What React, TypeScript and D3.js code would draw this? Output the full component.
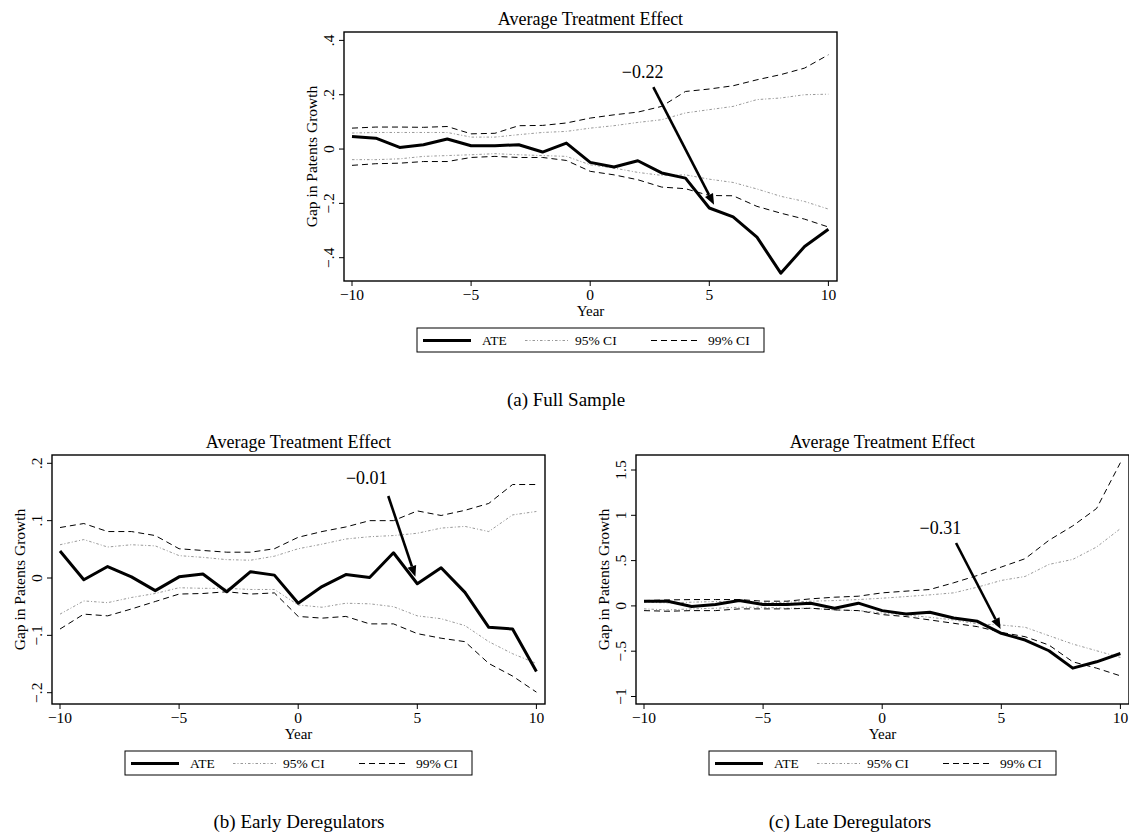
import React, { useEffect, useRef } from 'react';
import * as d3 from 'd3';

const years = [-10, -9, -8, -7, -6, -5, -4, -3, -2, -1, 0, 1, 2, 3, 4, 5, 6, 7, 8, 9, 10];
const xTicks = [-10, -5, 0, 5, 10];

// (a) Full Sample
const fullAte = [0.046, 0.040, 0.006, 0.016, 0.037, 0.012, 0.012, 0.016, -0.011, 0.022, -0.049, -0.066, -0.043, -0.088, -0.107, -0.217, -0.25, -0.324, -0.457, -0.359, -0.295];
const fullHi99 = [0.077, 0.081, 0.081, 0.080, 0.083, 0.056, 0.058, 0.086, 0.087, 0.096, 0.114, 0.126, 0.136, 0.157, 0.212, 0.221, 0.233, 0.255, 0.274, 0.298, 0.347];
const fullHi95 = [0.059, 0.061, 0.061, 0.061, 0.061, 0.044, 0.044, 0.053, 0.061, 0.065, 0.077, 0.086, 0.098, 0.108, 0.133, 0.145, 0.157, 0.182, 0.188, 0.2, 0.202];
const fullLo95 = [-0.039, -0.039, -0.036, -0.027, -0.024, -0.021, -0.017, -0.021, -0.024, -0.027, -0.058, -0.07, -0.086, -0.097, -0.095, -0.111, -0.123, -0.147, -0.174, -0.193, -0.221];
const fullLo99 = [-0.06, -0.054, -0.052, -0.046, -0.046, -0.031, -0.027, -0.031, -0.031, -0.042, -0.082, -0.095, -0.113, -0.14, -0.146, -0.171, -0.172, -0.211, -0.236, -0.258, -0.287];
const fullTicks = [-0.4, -0.2, 0, 0.2, 0.4];
const fullTickLabels = ['\u2212.4', '\u2212.2', '0', '.2', '.4'];
const fullArrow = [2.65, 0.228, 5.2, -0.205];
const fullNote = [2.2, 0.262];

// (b) Early Deregulators
const earlyAte = [0.047, -0.003, 0.020, 0.002, -0.022, 0.002, 0.007, -0.024, 0.011, 0.005, -0.044, -0.015, 0.006, 0.001, 0.044, -0.010, 0.018, -0.025, -0.086, -0.089, -0.163];
const earlyHi99 = [0.088, 0.095, 0.081, 0.081, 0.074, 0.051, 0.048, 0.045, 0.045, 0.051, 0.071, 0.081, 0.089, 0.100, 0.100, 0.117, 0.109, 0.118, 0.130, 0.163, 0.163];
const earlyHi95 = [0.058, 0.067, 0.054, 0.058, 0.056, 0.039, 0.036, 0.032, 0.031, 0.038, 0.051, 0.059, 0.068, 0.072, 0.074, 0.078, 0.087, 0.090, 0.081, 0.110, 0.116];
const earlyLo95 = [-0.063, -0.040, -0.043, -0.034, -0.027, -0.017, -0.018, -0.018, -0.020, -0.020, -0.047, -0.051, -0.044, -0.045, -0.050, -0.066, -0.071, -0.083, -0.111, -0.132, -0.149];
const earlyLo99 = [-0.089, -0.063, -0.066, -0.054, -0.041, -0.028, -0.027, -0.024, -0.028, -0.026, -0.067, -0.070, -0.067, -0.080, -0.080, -0.097, -0.105, -0.111, -0.149, -0.171, -0.199];
const earlyTicks = [-0.2, -0.1, 0, 0.1, 0.2];
const earlyTickLabels = ['\u2212.2', '\u2212.1', '0', '.1', '.2'];
const earlyArrow = [3.78, 0.143, 4.92, 0.002];
const earlyNote = [2.88, 0.164];

// (c) Late Deregulators
const lateAte = [0.052, 0.052, -0.007, 0.015, 0.059, 0.015, 0.015, 0.030, -0.026, 0.030, -0.052, -0.089, -0.070, -0.133, -0.170, -0.303, -0.377, -0.495, -0.687, -0.617, -0.525];
const lateHi99 = [0.059, 0.066, 0.070, 0.070, 0.070, 0.052, 0.052, 0.078, 0.096, 0.107, 0.144, 0.163, 0.181, 0.255, 0.336, 0.429, 0.521, 0.724, 0.883, 1.075, 1.581];
const lateHi95 = [0.041, 0.033, 0.041, 0.048, 0.052, 0.033, 0.041, 0.052, 0.059, 0.070, 0.085, 0.103, 0.122, 0.144, 0.207, 0.281, 0.325, 0.458, 0.513, 0.650, 0.853];
const lateLo95 = [-0.033, -0.044, -0.033, -0.026, -0.015, -0.015, -0.026, -0.026, -0.044, -0.052, -0.078, -0.100, -0.126, -0.155, -0.199, -0.211, -0.236, -0.329, -0.421, -0.495, -0.569];
const lateLo99 = [-0.052, -0.059, -0.052, -0.052, -0.033, -0.033, -0.033, -0.026, -0.044, -0.052, -0.096, -0.118, -0.155, -0.192, -0.229, -0.292, -0.340, -0.432, -0.617, -0.687, -0.772];
const lateTicks = [-1, -0.5, 0, 0.5, 1, 1.5];
const lateTickLabels = ['\u22121', '\u2212.5', '0', '.5', '1', '1.5'];
const lateArrow = [3.1, 0.694, 4.97, -0.255];
const lateNote = [2.44, 0.79];

const legendLabels = ['ATE', '95% CI', '99% CI'];

const panels = [
  { left: 344, top: 32, yDomain: [-0.4, 0.4], yRange: [225.7, 8.4], ticks: fullTicks, tickLabels: fullTickLabels,
    ate: fullAte, hi95: fullHi95, lo95: fullLo95, hi99: fullHi99, lo99: fullLo99, arrow: fullArrow, note: fullNote, noteText: '\u22120.22',
    caption: '(a) Full Sample', capX: 566, capY: 406 },
  { left: 52, top: 455, yDomain: [-0.2, 0.2], yRange: [237.7, 8.3], ticks: earlyTicks, tickLabels: earlyTickLabels,
    ate: earlyAte, hi95: earlyHi95, lo95: earlyLo95, hi99: earlyHi99, lo99: earlyLo99, arrow: earlyArrow, note: earlyNote, noteText: '\u22120.01',
    caption: '(b) Early Deregulators', capX: 299, capY: 828 },
  { left: 636, top: 455, yDomain: [-1, 1.5], yRange: [241.5, 15], ticks: lateTicks, tickLabels: lateTickLabels,
    ate: lateAte, hi95: lateHi95, lo95: lateLo95, hi99: lateHi99, lo99: lateLo99, arrow: lateArrow, note: lateNote, noteText: '\u22120.31',
    caption: '(c) Late Deregulators', capX: 850, capY: 828 },
];

const W = 493;
const H = 249;
const FONT = '"Liberation Serif", "Times New Roman", serif';
const DOT95 = '2.5,2,1,2';
const DASH99 = '6,4';

export default function App() {
  const svgRef = useRef<SVGSVGElement>(null);

  useEffect(() => {
    const svg = d3.select(svgRef.current);
    svg.selectAll('*').remove();
    svg.attr('font-family', FONT);

    panels.forEach((p) => {
      const x = d3.scaleLinear().domain([-10, 10]).range([8, 484.4]);
      const y = d3.scaleLinear().domain(p.yDomain).range(p.yRange);
      const g = svg.append('g').attr('transform', `translate(${p.left},${p.top})`);

      // title
      g.append('text').attr('x', W / 2).attr('y', -7).attr('text-anchor', 'middle')
        .attr('font-size', 18).text('Average Treatment Effect');

      const line = (vals: number[]) => d3.line<number>().x((_, i) => x(years[i])).y((d) => y(d))(vals);

      // confidence bands
      [p.hi95, p.lo95].forEach((s) => {
        g.append('path').attr('d', line(s)).attr('fill', 'none').attr('stroke', '#999')
          .attr('stroke-width', 1).attr('stroke-dasharray', DOT95);
      });
      [p.hi99, p.lo99].forEach((s) => {
        g.append('path').attr('d', line(s)).attr('fill', 'none').attr('stroke', '#000')
          .attr('stroke-width', 1).attr('stroke-dasharray', DASH99);
      });
      g.append('path').attr('d', line(p.ate)).attr('fill', 'none').attr('stroke', '#000')
        .attr('stroke-width', 3).attr('stroke-linejoin', 'round');

      // annotation arrow
      const [ax0, ay0, ax1, ay1] = p.arrow;
      const sx = x(ax0), sy = y(ay0), tx = x(ax1), ty = y(ay1);
      const ang = Math.atan2(ty - sy, tx - sx);
      const hl = 11, hw = 4.5;
      const bx = tx - hl * Math.cos(ang), by = ty - hl * Math.sin(ang);
      g.append('line').attr('x1', sx).attr('y1', sy).attr('x2', bx).attr('y2', by)
        .attr('stroke', '#000').attr('stroke-width', 2.6);
      g.append('polygon')
        .attr('points', [
          [tx, ty],
          [bx + hw * Math.sin(ang), by - hw * Math.cos(ang)],
          [bx - hw * Math.sin(ang), by + hw * Math.cos(ang)],
        ].map((pt) => pt.join(',')).join(' '))
        .attr('fill', '#000');
      g.append('text').attr('x', x(p.note[0])).attr('y', y(p.note[1])).attr('text-anchor', 'middle')
        .attr('font-size', 18).text(p.noteText);

      // frame
      g.append('rect').attr('x', 0).attr('y', 0).attr('width', W).attr('height', H)
        .attr('fill', 'none').attr('stroke', '#000').attr('stroke-width', 1.4);

      // x axis
      const xa = g.append('g').attr('transform', `translate(0,${H})`);
      xTicks.forEach((t) => {
        xa.append('line').attr('x1', x(t)).attr('x2', x(t)).attr('y1', 0).attr('y2', 5)
          .attr('stroke', '#000').attr('stroke-width', 1);
        xa.append('text').attr('x', x(t)).attr('y', 19).attr('text-anchor', 'middle')
          .attr('font-size', 15.5).text(t < 0 ? `\u2212${-t}` : `${t}`);
      });
      g.append('text').attr('x', W / 2).attr('y', H + 35).attr('text-anchor', 'middle')
        .attr('font-size', 15).text('Year');

      // y axis
      p.ticks.forEach((t, i) => {
        g.append('line').attr('x1', -5).attr('x2', 0).attr('y1', y(t)).attr('y2', y(t))
          .attr('stroke', '#000').attr('stroke-width', 1);
        g.append('text').attr('transform', `translate(-10,${y(t)}) rotate(-90)`)
          .attr('text-anchor', 'middle').attr('font-size', 15.5).text(p.tickLabels[i]);
      });
      g.append('text').attr('transform', `translate(-27,${H / 2}) rotate(-90)`)
        .attr('text-anchor', 'middle').attr('font-size', 15.5).text('Gap in Patents Growth');

      // legend
      const lg = g.append('g').attr('transform', `translate(${W / 2 - 173.5},${H + 47})`);
      lg.append('rect').attr('width', 347).attr('height', 24).attr('fill', '#fff')
        .attr('stroke', '#000').attr('stroke-width', 1);
      const items = [
        { x1: 6, x2: 54, tx: 65, stroke: '#000', w: 3, dash: null },
        { x1: 108, x2: 153, tx: 158, stroke: '#999', w: 1, dash: DOT95 },
        { x1: 234, x2: 283, tx: 291, stroke: '#000', w: 1, dash: DASH99 },
      ];
      items.forEach((it, i) => {
        lg.append('line').attr('x1', it.x1).attr('x2', it.x2).attr('y1', 12.5).attr('y2', 12.5)
          .attr('stroke', it.stroke).attr('stroke-width', it.w).attr('stroke-dasharray', it.dash);
        lg.append('text').attr('x', it.tx).attr('y', 17).attr('font-size', 13.5).text(legendLabels[i]);
      });

      // caption
      svg.append('text').attr('x', p.capX).attr('y', p.capY).attr('text-anchor', 'middle')
        .attr('font-size', 19).text(p.caption);
    });
  }, []);

  return (
    <svg ref={svgRef} width={1129} height={833}
      style={{ position: 'absolute', left: 0, top: 0, background: '#fff' }} />
  );
}
